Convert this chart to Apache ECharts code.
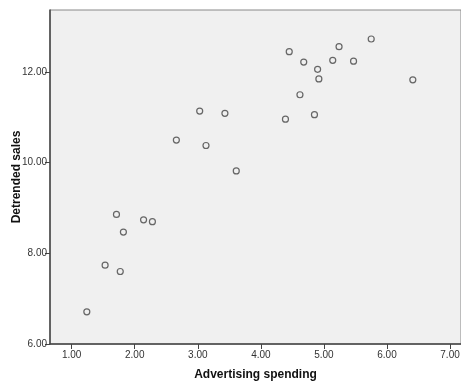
<!DOCTYPE html>
<html>
<head>
<meta charset="utf-8">
<script src="https://cdn.jsdelivr.net/npm/echarts@6/dist/echarts.min.js"></script>
<style>
html,body{margin:0;padding:0;background:#fff;}
#chart{width:461px;height:381px;}
</style>
</head>
<body>
<div id="chart"></div>
<script>
var advertising = [3.03, 3.43, 2.66, 3.13, 3.61, 4.45, 4.68, 4.90, 4.92, 5.14, 5.24, 5.47, 5.75, 6.41, 4.62, 4.39, 4.85, 1.71, 2.14, 2.28, 1.82, 1.53, 1.77, 1.24];
var sales =       [11.14, 11.09, 10.50, 10.38, 9.82, 12.45, 12.22, 12.06, 11.85, 12.26, 12.56, 12.24, 12.73, 11.83, 11.50, 10.96, 11.06, 8.86, 8.74, 8.70, 8.47, 7.74, 7.60, 6.71];
var xTicks = [1, 2, 3, 4, 5, 6, 7];
var yTicks = [6, 8, 10, 12];
var xTitle = 'Advertising spending';
var yTitle = 'Detrended sales';

var points = advertising.map(function (x, i) { return [x, sales[i]]; });

var chart = echarts.init(document.getElementById('chart'), null, {renderer: 'canvas'});
var labelStyle = {color: '#333', fontSize: 10, fontFamily: 'Liberation Sans, Arial, sans-serif'};
chart.setOption({
  animation: false,
  backgroundColor: '#fff',
  grid: {left: 50, right: 0, top: 10, bottom: 37, outerBoundsMode: 'none', containLabel: false, show: true, backgroundColor: '#f0f0f0', borderColor: '#888', borderWidth: 1},
  xAxis: {
    type: 'value', min: 0.656, max: 7.174,
    name: xTitle, nameLocation: 'middle', nameGap: 25, nameMoveOverlap: false,
    nameTextStyle: {color: '#111', fontSize: 12, fontWeight: 'bold', fontFamily: 'Liberation Sans, Arial, sans-serif'},
    axisLine: {show: true, onZero: false, lineStyle: {color: '#444', width: 1.5}},
    axisTick: {show: true, length: 5, customValues: xTicks, lineStyle: {color: '#444'}},
    axisLabel: Object.assign({customValues: xTicks, margin: 6, formatter: function (v) { return v.toFixed(2); }}, labelStyle),
    splitLine: {show: false}
  },
  yAxis: {
    type: 'value', min: 6, max: 13.37,
    name: yTitle, nameLocation: 'middle', nameGap: 27, nameMoveOverlap: false,
    nameTextStyle: {color: '#111', fontSize: 12, fontWeight: 'bold', fontFamily: 'Liberation Sans, Arial, sans-serif'},
    axisLine: {show: true, onZero: false, lineStyle: {color: '#444', width: 1.5}},
    axisTick: {show: true, length: 5, customValues: yTicks, lineStyle: {color: '#444'}},
    axisLabel: Object.assign({customValues: yTicks, margin: 3, formatter: function (v) { return v.toFixed(2); }}, labelStyle),
    splitLine: {show: false}
  },
  series: [{
    type: 'scatter',
    data: points,
    symbol: 'circle',
    symbolSize: 6,
    itemStyle: {color: 'rgba(0,0,0,0)', borderColor: '#444', borderWidth: 1.2}
  }]
});
</script>
</body>
</html>
